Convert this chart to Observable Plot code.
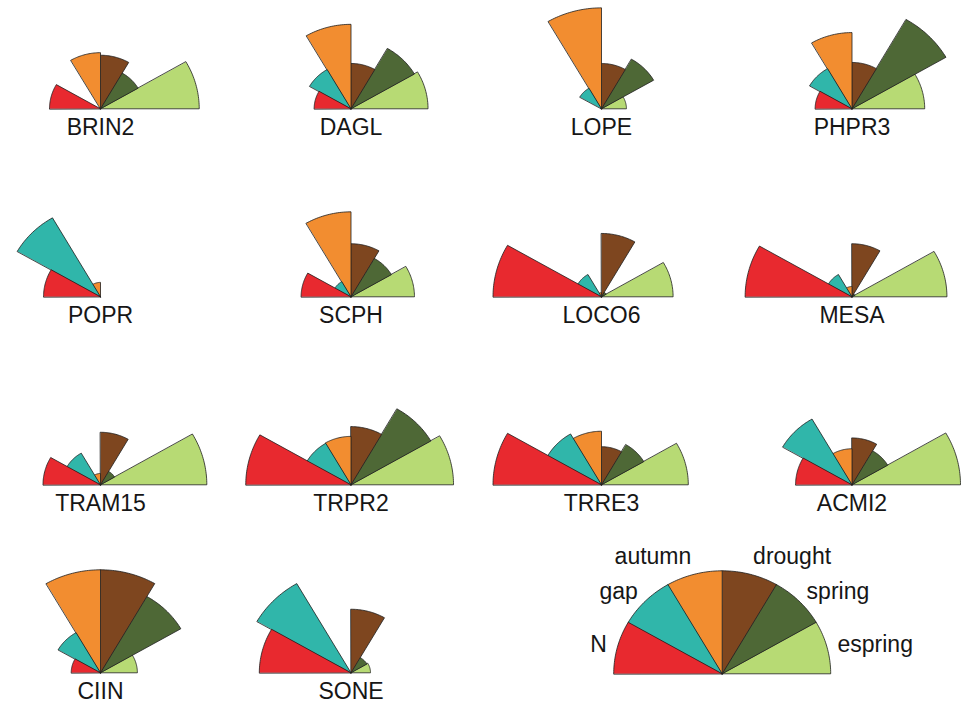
<!DOCTYPE html>
<html><head><meta charset="utf-8">
<script src="https://cdn.jsdelivr.net/npm/d3@7"></script>
<script src="https://cdn.jsdelivr.net/npm/@observablehq/plot@0.6"></script>
<style>body{margin:0;background:#fff}</style>
</head><body><div id="chart"></div>
<script>
// Variables, counter-clockwise from the right (0°) to the left (180°)
const variables = ["espring", "spring", "drought", "autumn", "gap", "N"];
const colors = ["#b7da74", "#4e6836", "#7e461f", "#f28d30", "#30b6aa", "#e8292f"];
const species = ["BRIN2","DAGL","LOPE","PHPR3","POPR","SCPH","LOCO6","MESA","TRAM15","TRPR2","TRRE3","ACMI2","CIIN","SONE"];

// Scaled values (0..1) per variable, in species order
const N       = [0.47, 0.34, 0.00, 0.34, 0.525, 0.46, 1.00, 0.985, 0.53, 0.97, 1.00, 0.52, 0.27, 0.845];
const gap     = [0.00, 0.44, 0.23, 0.45, 0.885, 0.17, 0.25, 0.25, 0.355, 0.465, 0.57, 0.737, 0.45, 1.00];
const autumn  = [0.545, 0.82, 0.98, 0.74, 0.14, 0.825, 0.04, 0.10, 0.11, 0.47, 0.52, 0.35, 1.00, 0.00];
const drought = [0.52, 0.44, 0.44, 0.45, 0.00, 0.515, 0.615, 0.515, 0.51, 0.565, 0.37, 0.455, 1.00, 0.617];
const spring  = [0.40, 0.675, 0.555, 1.00, 0.00, 0.43, 0.05, 0.03, 0.15, 0.85, 0.45, 0.38, 0.855, 0.17];
const espring = [0.91, 0.71, 0.23, 0.67, 0.00, 0.585, 0.66, 0.875, 0.98, 0.945, 0.80, 1.00, 0.34, 0.18];
const keyValues = [1, 1, 1, 1, 1, 1];

const valuesByVar = {espring, spring, drought, autumn, gap, N};

// layout
const W = 971, H = 704;
const RX = 108.5, RY = 103;
const col0 = 100, colStep = 250.5, row0 = 108.3, rowStep = 188;
const keyCx = 721.7, keyCy = 673.3;

const wedges = [];
function addWedge(key, cx, cy, i, v) {
  if (!(v > 0)) return;
  const a0 = i * 30, a1 = a0 + 30, n = 24;
  wedges.push({key, variable: variables[i], x: cx, y: cy});
  for (let k = 0; k <= n; k++) {
    const a = (a0 + (a1 - a0) * k / n) * Math.PI / 180;
    wedges.push({key, variable: variables[i], x: cx + v * RX * Math.cos(a), y: cy - v * RY * Math.sin(a)});
  }
}

const names = [];
species.forEach((s, j) => {
  const cx = col0 + colStep * (j % 4);
  const cy = row0 + rowStep * Math.floor(j / 4);
  variables.forEach((vname, i) => addWedge(s + "-" + vname, cx, cy, i, valuesByVar[vname][j]));
  names.push({name: s, x: cx, y: cy + 19});
});
variables.forEach((vname, i) => addWedge("key-" + vname, keyCx, keyCy, i, keyValues[i]));

const keyLabels = variables.map((vname, i) => {
  const a = (i * 30 + 15) * Math.PI / 180;
  const s = Math.sin(a);
  return {
    name: vname,
    x: keyCx + 1.1 * RX * Math.cos(a),
    y: keyCy - 1.1 * RY * s - 8.5 * Math.pow(s, 4),
    right: Math.cos(a) > 0
  };
});

const font = "'Liberation Sans', Arial, Helvetica, sans-serif";
const chart = Plot.plot({
  width: W, height: H,
  margin: 0,
  x: {type: "linear", domain: [0, W], range: [0, W], axis: null},
  y: {type: "linear", domain: [0, H], range: [0, H], axis: null},
  color: {domain: variables, range: colors},
  style: {background: "#fff"},
  marks: [
    Plot.line(wedges, {x: "x", y: "y", z: "key", fill: "variable", stroke: "#1e1e1e", strokeWidth: 0.8, curve: "linear-closed", strokeLinejoin: "round"}),
    Plot.text(names, {x: "x", y: "y", text: "name", fontSize: 23, fontFamily: font, fill: "#161616"}),
    Plot.text(keyLabels.filter(d => d.right), {x: "x", y: "y", text: "name", textAnchor: "start", fontSize: 23, fontFamily: font, fill: "#161616"}),
    Plot.text(keyLabels.filter(d => !d.right), {x: "x", y: "y", text: "name", textAnchor: "end", fontSize: 23, fontFamily: font, fill: "#161616"})
  ]
});
document.getElementById("chart").appendChild(chart);
</script>
</body></html>
